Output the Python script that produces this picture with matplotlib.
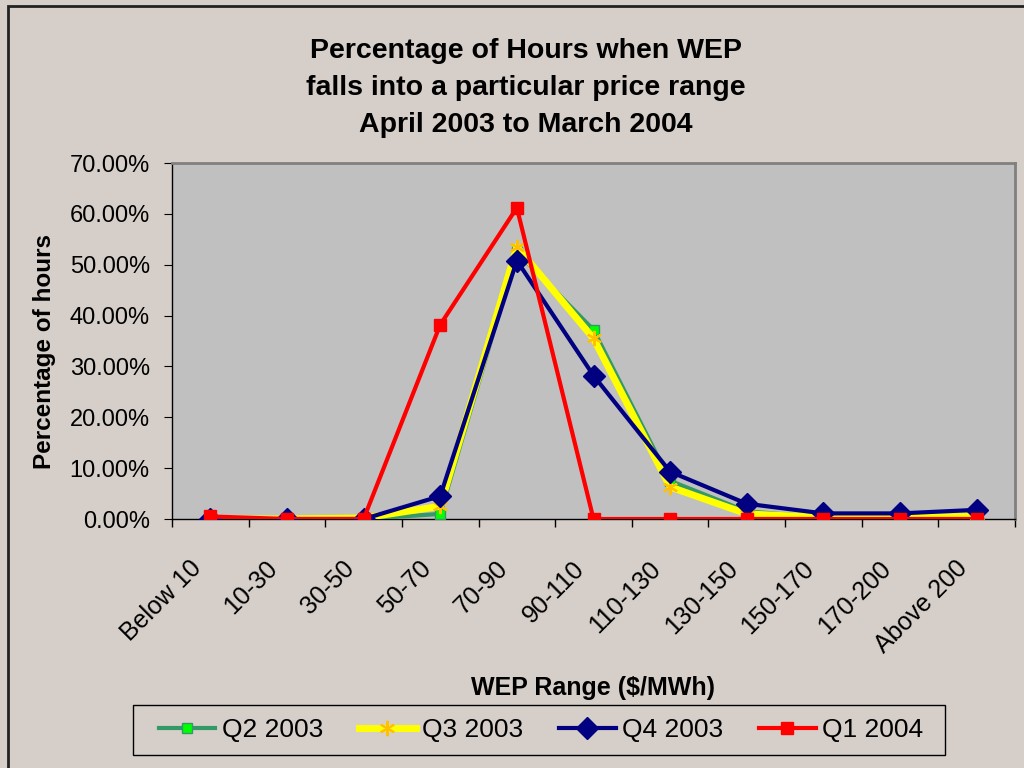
import matplotlib
matplotlib.use("Agg")
import matplotlib.pyplot as plt
from matplotlib.lines import Line2D
from matplotlib.patches import Rectangle
from matplotlib.ticker import FuncFormatter, FixedLocator
from matplotlib.transforms import ScaledTranslation

plt.rcParams['font.family'] = ['Liberation Sans', 'DejaVu Sans']

categories = ["Below 10", "10-30", "30-50", "50-70", "70-90", "90-110",
              "110-130", "130-150", "150-170", "170-200", "Above 200"]
q2_2003 = [0.0, 0.0, 0.0, 1.0, 52.5, 37.2, 7.5, 1.5, 0.3, 0.3, 0.5]
q3_2003 = [0.0, 0.0, 0.2, 2.5, 53.5, 35.5, 6.3, 1.0, 0.3, 0.3, 0.5]
q4_2003 = [0.0, 0.0, 0.0, 4.5, 50.8, 28.2, 9.3, 3.0, 1.1, 1.1, 1.8]
q1_2004 = [0.5, 0.0, 0.0, 38.2, 61.2, 0.0, 0.0, 0.0, 0.0, 0.0, 0.0]

bg = "#D6CFC9"
ast = (6, 2, 0)
fig = plt.figure(figsize=(10.24, 7.68), dpi=100, facecolor=bg)
ax = fig.add_axes([172/1024, 1-519/768, (1015-172)/1024, (519-163)/768])
ax.set_facecolor("#C0C0C0")

x = list(range(len(categories)))
ax.plot(x, q2_2003, color="#339966", lw=3, marker="s", ms=7,
        mfc="#00FF00", mec="#339966", label="Q2 2003", zorder=3)
ax.plot(x, q3_2003, color="#FFFF00", lw=5, marker=ast, ms=11,
        mec="#FFC000", mew=1.5, label="Q3 2003", zorder=4)
ax.plot(x, q4_2003, color="#000080", lw=3, marker="D", ms=11,
        mfc="#000080", mec="#000080", label="Q4 2003", zorder=5)
ax.plot(x, q1_2004, color="#FF0000", lw=3, marker="s", ms=9,
        mfc="#FF0000", mec="#FF0000", label="Q1 2004", zorder=6)

ax.set_xlim(-0.5, len(categories) - 0.5)
ax.set_ylim(0, 70)
ax.set_yticks(range(0, 71, 10))
ax.yaxis.set_major_formatter(FuncFormatter(lambda v, p: f"{v:.2f}%"))
ax.set_xticks(x)
ax.set_xticklabels(categories, rotation=45, ha="right", va="center",
                   rotation_mode="anchor")
ax.xaxis.set_minor_locator(FixedLocator([i - 0.5 for i in range(len(categories) + 1)]))
ax.tick_params(axis="x", which="major", length=0, labelsize=18, pad=33)
ax.tick_params(axis="x", which="minor", length=6, direction="out", width=1)
ax.tick_params(axis="y", length=6, direction="out", labelsize=17, pad=10)
shift = ScaledTranslation(-0.13, 0, fig.dpi_scale_trans)
for lab in ax.get_xticklabels():
    lab.set_transform(lab.get_transform() + shift)

for s in ["top", "right"]:
    ax.spines[s].set_color("#808080")
    ax.spines[s].set_linewidth(2)
for s in ["left", "bottom"]:
    ax.spines[s].set_color("black")
    ax.spines[s].set_linewidth(1)

for yy, txt in [(51, "Percentage of Hours when WEP"),
                (88, "falls into a particular price range"),
                (125, "April 2003 to March 2004")]:
    fig.text(526/1024, 1-yy/768, txt, ha="center", va="center",
             fontsize=20.5, fontweight="bold")

fig.text(593/1024, 1-688/768, "WEP Range ($/MWh)", ha="center", va="center",
         fontsize=18, fontweight="bold")
fig.text(45/1024, 1-352/768, "Percentage of hours", ha="center", va="center",
         rotation=90, fontsize=17.5, fontweight="bold")

handles = [
    Line2D([], [], color="#339966", lw=3, marker="s", ms=7, mfc="#00FF00", mec="#339966"),
    Line2D([], [], color="#FFFF00", lw=5, marker=ast, ms=11, mec="#FFC000", mew=1.5),
    Line2D([], [], color="#000080", lw=3, marker="D", ms=11, mfc="#000080", mec="#000080"),
    Line2D([], [], color="#FF0000", lw=3, marker="s", ms=9, mfc="#FF0000", mec="#FF0000"),
]
leg = fig.legend(handles, ["Q2 2003", "Q3 2003", "Q4 2003", "Q1 2004"],
                 loc="center", bbox_to_anchor=(541/1024, 1-730/768), ncol=4,
                 fontsize=19, frameon=False, handlelength=2.15,
                 handletextpad=0.25, columnspacing=1.35, borderpad=0.2,
                 borderaxespad=0)

fig.add_artist(Rectangle((133/1024, 1-755/768), (945-133)/1024, 50/768,
                         transform=fig.transFigure, fill=False,
                         edgecolor="black", lw=1, zorder=1))

fig.add_artist(Rectangle((8/1024, -0.1), 1.2, 1-6/768 + 0.1, transform=fig.transFigure,
                         fill=False, edgecolor="#222222", lw=2))

fig.savefig("out.png", dpi=100, facecolor=bg)
